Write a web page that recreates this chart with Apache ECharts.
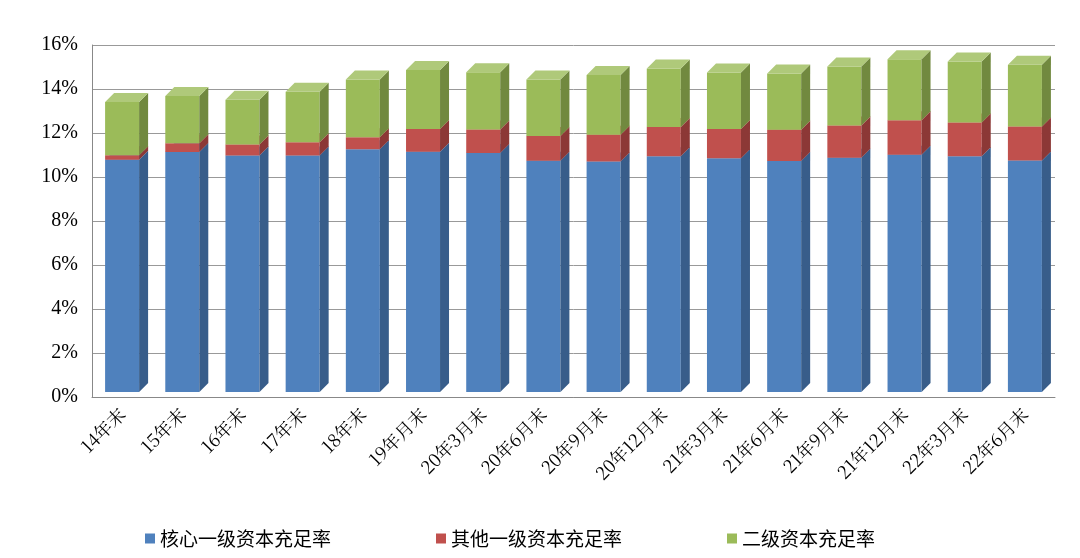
<!DOCTYPE html>
<html><head><meta charset="utf-8">
<script src="https://cdn.jsdelivr.net/npm/echarts@6/dist/echarts.min.js"></script>
<style>html,body{margin:0;background:#fff}#c{width:1080px;height:558px}</style>
</head><body><div id="c"></div>
<script>
const categories=['14年末','15年末','16年末','17年末','18年末','19年月末','20年3月末','20年6月末','20年9月末','20年12月末','21年3月末','21年6月末','21年9月末','21年12月末','22年3月末','22年6月末'];
const core=[10.56,10.91,10.75,10.75,11.03,10.92,10.86,10.51,10.48,10.72,10.62,10.50,10.65,10.78,10.72,10.52];
const otherTier1=[0.20,0.40,0.50,0.60,0.55,1.03,1.07,1.13,1.21,1.32,1.33,1.42,1.46,1.57,1.53,1.55];
const tier2=[2.42,2.14,2.03,2.30,2.62,2.69,2.60,2.57,2.72,2.66,2.57,2.56,2.69,2.78,2.77,2.80];
const names=['核心一级资本充足率','其他一级资本充足率','二级资本充足率'];
const cols=[['#4F81BD','#385D8A','#6A95C8'],['#C0504D','#8C3836','#CC6A67'],['#9BBB59','#71893F','#AFC97A']];
const vals=[core,otherTier1,tier2];
const series=vals.map((arr,k)=>({
  name:names[k],type:'custom',
  data:arr.map((v,i)=>{let b=0;for(let j=0;j<k;j++)b+=vals[j][i];return [i,b,b+v];}),
  renderItem:function(params,api){
    const i=api.value(0),p0=api.coord([i,api.value(1)]),p1=api.coord([i,api.value(2)]);
    const w=34,d=9,x0=p0[0]-w/2,x1=x0+w,yb=p0[1]-5,yt=p1[1]-5;
    const c=cols[k];
    return {type:'group',children:[
      {type:'rect',shape:{x:x0,y:yt,width:w,height:yb-yt},style:{fill:c[0]}},
      {type:'polygon',shape:{points:[[x1,yb],[x1+d,yb-d],[x1+d,yt-d],[x1,yt]]},style:{fill:c[1]}},
      {type:'polygon',shape:{points:[[x0,yt],[x1,yt],[x1+d,yt-d],[x0+d,yt-d]]},style:{fill:c[2]}}
    ]};
  },
  itemStyle:{color:cols[k][0]},
  encode:{x:0,y:2}
}));
const chart=echarts.init(document.getElementById('c'));
chart.setOption({
  animation:false,
  grid:{left:92,right:25,top:45,bottom:161},
  legend:{bottom:5,left:140,itemWidth:10,itemHeight:10,itemGap:105,icon:'rect',
    textStyle:{fontFamily:'Noto Sans CJK SC',fontSize:19,color:'#000'},data:names},
  xAxis:{type:'category',data:categories,axisTick:{show:false},
    axisLine:{lineStyle:{color:'#888'}},
    axisLabel:{rotate:45,interval:0,fontFamily:'Noto Serif CJK SC, Noto Sans CJK SC',fontSize:18,color:'#000',margin:14}},
  yAxis:{type:'value',min:0,max:16,interval:2,
    axisLine:{show:true,lineStyle:{color:'#888'}},
    splitLine:{lineStyle:{color:'#999'}},
    axisLabel:{formatter:'{value}%',fontFamily:'Liberation Serif',fontSize:20,color:'#000',margin:14}},
  series:series
});
</script></body></html>
